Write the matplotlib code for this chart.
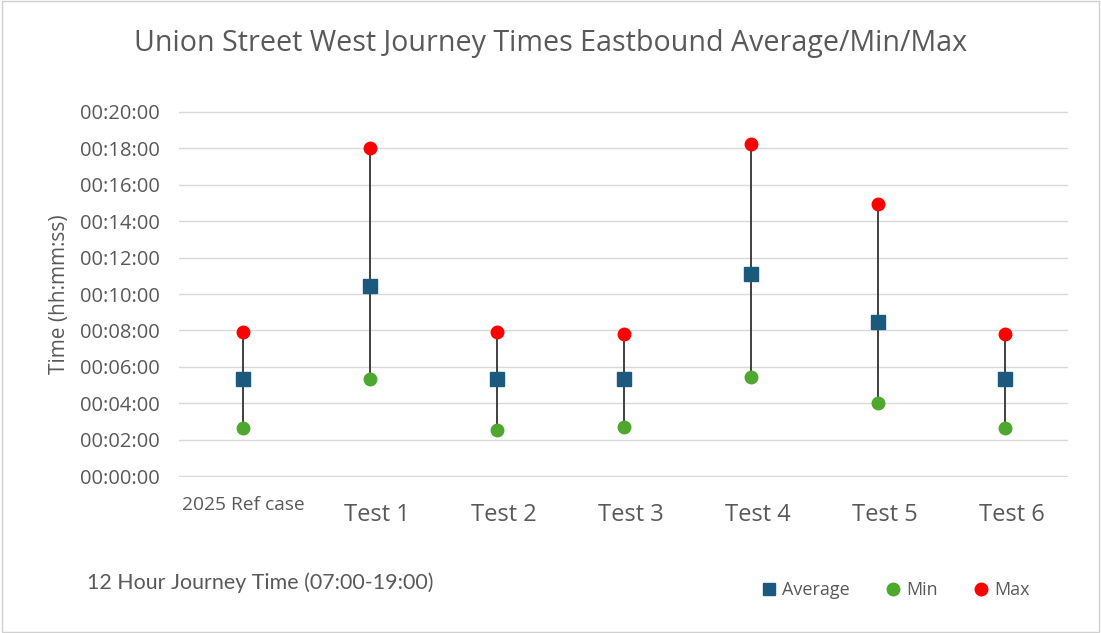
import matplotlib.pyplot as plt
from matplotlib.ticker import FuncFormatter, MultipleLocator
from matplotlib.lines import Line2D
from matplotlib.patches import Rectangle

plt.rcParams['font.family'] = ['Open Sans', 'DejaVu Sans']

# journey times in minutes
categories = ['2025 Ref case', 'Test 1', 'Test 2', 'Test 3', 'Test 4', 'Test 5', 'Test 6']
avg_min = [5.35, 10.45, 5.35, 5.35, 11.09, 8.49, 5.35]
min_min = [2.68, 5.35, 2.55, 2.72, 5.46, 4.05, 2.65]
max_min = [7.93, 18.02, 7.90, 7.80, 18.22, 14.91, 7.80]

c_avg = '#1b5a7d'
c_min = '#4ea72e'
c_max = '#ff0000'
c_text = '#595959'


def hms(v, pos=None):
    secs = int(round(v * 60))
    return '%02d:%02d:%02d' % (secs // 3600, (secs % 3600) // 60, secs % 60)


fig = plt.figure(figsize=(11.01, 6.33), dpi=100)
fig.patches.append(Rectangle((0.002, 0.002), 0.996, 0.996, transform=fig.transFigure,
                             fill=False, edgecolor='#d0d0d0', linewidth=1))
ax = fig.add_axes([0.163, 0.246, 0.807, 0.579])

x = list(range(len(categories)))
ax.vlines(x, min_min, max_min, color='#404040', linewidth=1.4, zorder=2)
ax.plot(x, avg_min, 's', color=c_avg, markersize=10, zorder=3, label='Average')
ax.plot(x, min_min, 'o', color=c_min, markersize=9, zorder=3, label='Min')
ax.plot(x, max_min, 'o', color=c_max, markersize=9, zorder=3, label='Max')

ax.set_xlim(-0.5, len(categories) - 0.5)
ax.set_ylim(-0.05, 20.05)
ax.yaxis.set_major_locator(MultipleLocator(2))
ax.yaxis.set_major_formatter(FuncFormatter(hms))
ax.grid(axis='y', color='#d9d9d9', linewidth=1)
ax.set_axisbelow(True)
for s in ax.spines.values():
    s.set_visible(False)
ax.tick_params(axis='y', length=0, pad=14, labelsize=14.5, labelcolor=c_text)
ax.set_xticks([])

# category labels under the axis
for i, name in enumerate(categories):
    if i == 0:
        ax.text(i, -1.55, name, ha='center', va='center', fontsize=13.8, color=c_text)
    else:
        ax.annotate(name, (i, -2.1), xytext=(5, 0), textcoords='offset points',
                    ha='center', va='center', fontsize=17, color=c_text,
                    annotation_clip=False)

ax.set_ylabel('Time (hh:mm:ss)', fontsize=15, color=c_text, labelpad=7)
fig.text(0.5, 0.932, 'Union Street West Journey Times Eastbound Average/Min/Max',
         ha='center', va='center', fontsize=20.6, color=c_text)
fig.text(0.079, 0.079, '12 Hour Journey Time (07:00-19:00)', ha='left', va='center',
         fontsize=15.4, color=c_text, family=['Lato', 'DejaVu Sans'])

handles = [Line2D([], [], ls='', marker='s', color=c_avg, markersize=9),
           Line2D([], [], ls='', marker='o', color=c_min, markersize=9),
           Line2D([], [], ls='', marker='o', color=c_max, markersize=9)]
fig.legend(handles, ['Average', 'Min', 'Max'], loc='center', bbox_to_anchor=(0.813, 0.068),
           ncol=3, frameon=False, fontsize=13, labelcolor=c_text, handletextpad=0.22,
           columnspacing=1.9, handlelength=1.0)

fig.savefig('out.png', dpi=100)
